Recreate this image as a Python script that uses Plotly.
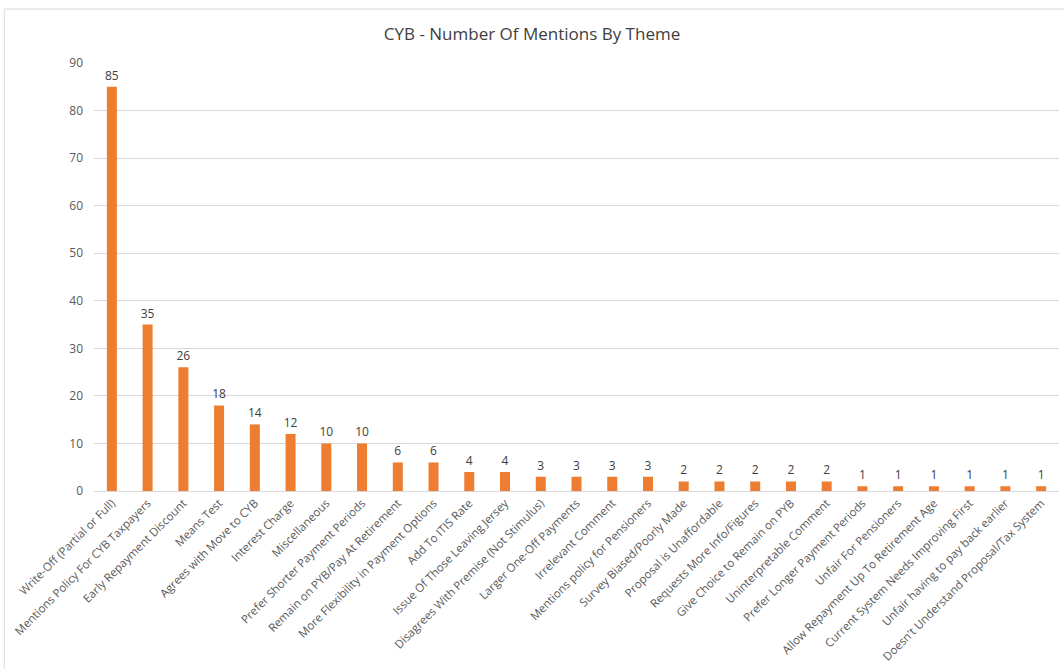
import plotly.graph_objects as go

categories = [
    "Write-Off (Partial or Full)", "Mentions Policy For CYB Taxpayers", "Early Repayment Discount",
    "Means Test", "Agrees with Move to CYB", "Interest Charge", "Miscellaneous",
    "Prefer Shorter Payment Periods", "Remain on PYB/Pay At Retirement",
    "More Flexibility in Payment Options", "Add To ITIS Rate", "Issue Of Those Leaving Jersey",
    "Disagrees With Premise (Not Stimulus)", "Larger One-Off Payments", "Irrelevant Comment",
    "Mentions policy for Pensioners", "Survey Biased/Poorly Made", "Proposal is Unaffordable",
    "Requests More Info/Figures", "Give Choice to Remain on PYB", "Uninterpretable Comment",
    "Prefer Longer Payment Periods", "Unfair For Pensioners", "Allow Repayment Up To Retirement Age",
    "Current System Needs Improving First", "Unfair having to pay back earlier",
    "Doesn't Understand Proposal/Tax System",
]
mentions = [85, 35, 26, 18, 14, 12, 10, 10, 6, 6, 4, 4, 3, 3, 3, 3, 2, 2, 2, 2, 2, 1, 1, 1, 1, 1, 1]
y_ticks = [0, 10, 20, 30, 40, 50, 60, 70, 80, 90]

fig = go.Figure()
fig.add_trace(go.Bar(
    x=categories, y=mentions,
    marker=dict(color="#ED7D31", line=dict(width=0)),
    text=[str(v) for v in mentions], textposition="outside",
    textfont=dict(size=12, color="#404040"), cliponaxis=False,
))

fig.update_layout(
    width=1064, height=669,
    margin=dict(l=94, r=5, t=63, b=178),
    paper_bgcolor="white", plot_bgcolor="white",
    font=dict(family="Open Sans, Liberation Sans, sans-serif", color="#595959", size=12),
    title=dict(text="CYB - Number Of Mentions By Theme", x=0.5, xref="container",
               y=1 - 34 / 669, yanchor="middle",
               font=dict(size=17, color="#404040")),
    bargap=0.72,
    showlegend=False,
    uniformtext=dict(minsize=12, mode="show"),
    xaxis=dict(tickangle=-45, showgrid=False, showline=True, linecolor="#D9D9D9",
               ticks="", tickfont=dict(size=11.5, color="#595959"), automargin=False),
    yaxis=dict(range=[0, 90], tickvals=y_ticks, showgrid=True, gridcolor="#D9D9D9",
               zeroline=False, showline=False, ticks="", ticklabelstandoff=10,
               tickfont=dict(size=12, color="#595959"), automargin=False),
    shapes=[
        dict(type="line", xref="paper", yref="paper", x0=-0.093, x1=1.01, y0=1.126, y1=1.126,
             line=dict(color="#D9D9D9", width=1)),
        dict(type="line", xref="paper", yref="paper", x0=-0.093, x1=-0.093, y0=1.126, y1=-0.5,
             line=dict(color="#D9D9D9", width=1)),
    ],
)

fig.write_html("out.html", config={"displayModeBar": False},
               post_script="document.body.style.margin='0';")
